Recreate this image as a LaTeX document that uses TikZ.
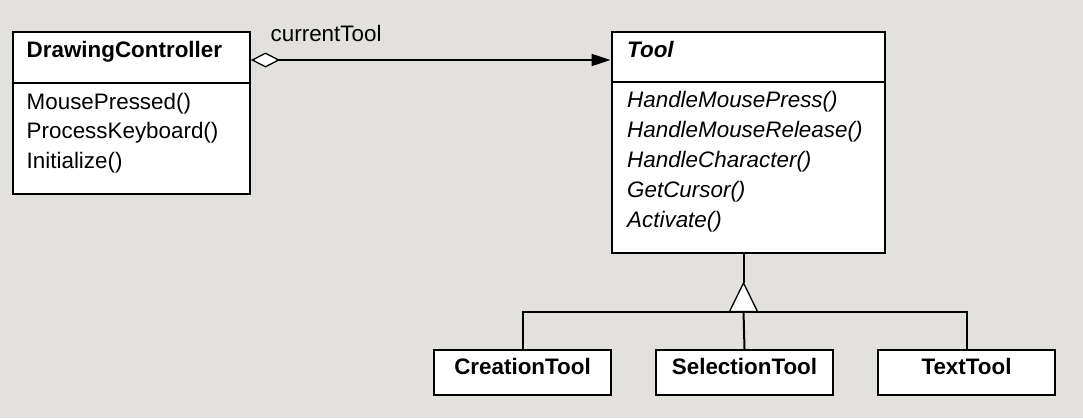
\documentclass[tikz,border=0pt]{standalone}
\usepackage{fontspec}
\setmainfont{Liberation Sans}
\usetikzlibrary{arrows.meta}
\definecolor{bg}{RGB}{227,225,221}
\begin{document}
\begin{tikzpicture}[x=1pt,y=-1pt,
  box/.style={draw=black,line width=2pt,fill=white,inner sep=0pt,anchor=north west},
  rule/.style={draw=black,line width=2pt},
  txt/.style={inner sep=0pt,anchor=base west,font=\fontsize{22.4}{26}\selectfont},
  ttl/.style={inner sep=0pt,anchor=base west,font=\fontsize{22.4}{26}\selectfont\bfseries},
  ttlit/.style={inner sep=0pt,anchor=base west,font=\fontsize{22.4}{26}\selectfont\bfseries\itshape},
  itx/.style={inner sep=0pt,anchor=base west,font=\fontsize{22.4}{26}\selectfont\itshape},
  ctitle/.style={inner sep=0pt,anchor=base,font=\fontsize{22.4}{26}\selectfont\bfseries},
  assoc/.style={draw=black,line width=2pt,
    {Diamond[fill=white,length=29pt,width=15pt,line width=1.3pt]}-{Triangle[length=19pt,width=12pt]}},
  gentri/.style={draw=black,line width=1.3pt,fill=white,line join=miter}
]
\fill[bg] (0,0) rectangle (1083,418);
\useasboundingbox (0,0) rectangle (1083,418);

% DrawingController
\node[box,minimum width=237pt,minimum height=162pt] (dc) at (12,31) {};
\coordinate (dcdiv) at (0,83);
\draw[rule] (dc.west |- dcdiv) -- (dc.east |- dcdiv);
\node[ttl] (dct) at (26.5,57) {DrawingController};
\node[txt] (dcm1) at (26.5,109) {MousePressed()};
\node[txt] (dcm2) at (26.5,138.5) {ProcessKeyboard()};
\node[txt] (dcm3) at (26.5,168) {Initialize()};

% Tool
\node[box,minimum width=273pt,minimum height=221pt] (tool) at (610.5,31) {};
\coordinate (tdiv) at (0,82);
\draw[rule] (tool.west |- tdiv) -- (tool.east |- tdiv);
\node[ttlit] (tt) at (627,57) {Tool};
\node[itx] (tm1) at (627,107.5) {HandleMousePress()};
\node[itx] (tm2) at (627,137.5) {HandleMouseRelease()};
\node[itx] (tm3) at (627,167.5) {HandleCharacter()};
\node[itx] (tm4) at (627,197.5) {GetCursor()};
\node[itx] (tm5) at (627,227) {Activate()};

% association
\coordinate (ay) at (0,60);
\draw[assoc] (dc.east |- ay) -- (tool.west |- ay);
\node[txt] (lbl) at (270.5,41) {currentTool};

% subclasses
\node[box,minimum width=177pt,minimum height=45pt] (ct) at (433,349) {};
\node[box,minimum width=177pt,minimum height=45pt] (st) at (655,349) {};
\node[box,minimum width=177pt,minimum height=45pt] (xt) at (877,349) {};
\node[ctitle] (ctt) at ([yshift=-25pt]ct.north) {CreationTool};
\node[ctitle] (stt) at ([yshift=-25pt]st.north) {SelectionTool};
\node[ctitle] (xtt) at ([yshift=-25pt]xt.north) {TextTool};

% generalization
\coordinate (apex) at (743.5,283);
\coordinate (bar) at (743.5,311.5);
\draw[rule] (apex |- tool.south) -- (apex);
\draw[rule] (ct.north) |- (bar) -| (xt.north);
\draw[rule] (bar) -- (st.north);
\draw[gentri] (apex) -- ([xshift=14pt]bar) -- ([xshift=-14pt]bar) -- cycle;
\end{tikzpicture}
\end{document}
